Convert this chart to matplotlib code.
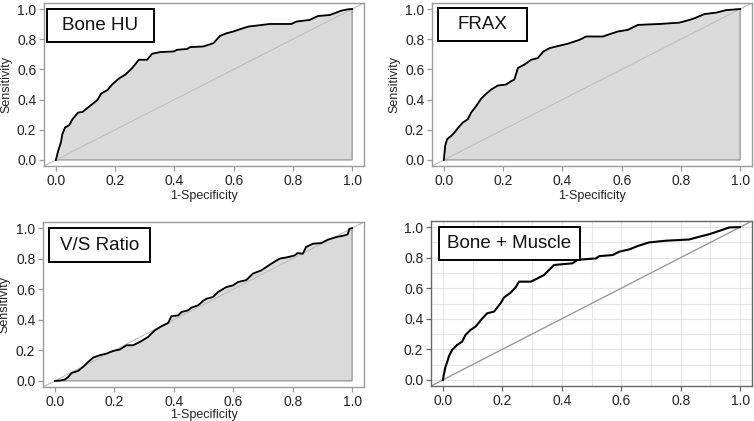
import matplotlib
matplotlib.use("Agg")
import matplotlib.pyplot as plt
from matplotlib.patches import Rectangle

plt.rcParams['font.family'] = ['Liberation Sans', 'DejaVu Sans']

# ROC curves (1-specificity, sensitivity)
bone_hu_fpr = [0, 0.008, 0.017, 0.022, 0.031, 0.045, 0.056, 0.075, 0.09, 0.112, 0.14, 0.153,
               0.174, 0.19, 0.213, 0.235, 0.258, 0.28, 0.308, 0.325, 0.353, 0.398, 0.409, 0.442,
               0.454, 0.498, 0.532, 0.554, 0.577, 0.599, 0.621, 0.65, 0.689, 0.722, 0.795, 0.812,
               0.857, 0.885, 0.924, 0.963, 0.985, 1]
bone_hu_tpr = [0, 0.061, 0.116, 0.171, 0.215, 0.23, 0.27, 0.314, 0.318, 0.353, 0.397, 0.44,
               0.463, 0.5, 0.54, 0.566, 0.61, 0.664, 0.664, 0.704, 0.715, 0.719, 0.73, 0.735,
               0.748, 0.752, 0.774, 0.822, 0.84, 0.851, 0.866, 0.884, 0.893, 0.901, 0.901, 0.917,
               0.928, 0.954, 0.96, 0.989, 0.998, 1]

frax_fpr = [0, 0.0045, 0.011, 0.025, 0.036, 0.049, 0.064, 0.081, 0.092, 0.109, 0.126, 0.143,
            0.16, 0.182, 0.21, 0.227, 0.238, 0.25, 0.272, 0.295, 0.317, 0.336, 0.357, 0.39,
            0.418, 0.458, 0.48, 0.537, 0.559, 0.587, 0.621, 0.655, 0.728, 0.795, 0.829, 0.846,
            0.88, 0.919, 0.953, 1]
frax_tpr = [0, 0.094, 0.138, 0.16, 0.182, 0.215, 0.248, 0.27, 0.314, 0.357, 0.406, 0.439,
            0.467, 0.493, 0.5, 0.522, 0.533, 0.61, 0.632, 0.664, 0.675, 0.719, 0.741, 0.757,
            0.77, 0.796, 0.818, 0.818, 0.833, 0.851, 0.862, 0.895, 0.901, 0.91, 0.928, 0.939,
            0.967, 0.976, 0.993, 1]

vs_fpr = [0, 0.017, 0.034, 0.045, 0.056, 0.078, 0.095, 0.112, 0.129, 0.151, 0.174, 0.196,
          0.218, 0.241, 0.263, 0.286, 0.314, 0.336, 0.358, 0.381, 0.392, 0.415, 0.426, 0.448,
          0.459, 0.482, 0.498, 0.51, 0.532, 0.549, 0.577, 0.599, 0.616, 0.644, 0.666, 0.694,
          0.711, 0.728, 0.756, 0.784, 0.806, 0.817, 0.834, 0.845, 0.868, 0.896, 0.918, 0.946,
          0.974, 0.985, 0.991, 1]
vs_tpr = [0, 0.002, 0.009, 0.026, 0.052, 0.065, 0.092, 0.124, 0.153, 0.168, 0.179, 0.196,
          0.205, 0.233, 0.233, 0.255, 0.288, 0.331, 0.357, 0.379, 0.423, 0.429, 0.451, 0.462,
          0.479, 0.495, 0.523, 0.538, 0.549, 0.582, 0.614, 0.625, 0.647, 0.66, 0.702, 0.723,
          0.745, 0.767, 0.8, 0.81, 0.821, 0.837, 0.832, 0.876, 0.898, 0.902, 0.924, 0.941,
          0.952, 0.959, 0.996, 1]

combo_fpr = [0, 0.003, 0.009, 0.015, 0.02, 0.031, 0.048, 0.065, 0.076, 0.093, 0.11, 0.133,
             0.149, 0.172, 0.194, 0.206, 0.228, 0.245, 0.256, 0.296, 0.318, 0.34, 0.357, 0.374,
             0.436, 0.453, 0.515, 0.526, 0.571, 0.593, 0.627, 0.655, 0.694, 0.751, 0.829, 0.863,
             0.897, 0.931, 0.964, 1]
combo_tpr = [0, 0.033, 0.087, 0.12, 0.153, 0.196, 0.229, 0.251, 0.294, 0.327, 0.349, 0.403,
             0.436, 0.447, 0.501, 0.54, 0.571, 0.606, 0.643, 0.643, 0.664, 0.686, 0.719, 0.752,
             0.763, 0.786, 0.795, 0.81, 0.817, 0.839, 0.854, 0.876, 0.9, 0.911, 0.919, 0.937,
             0.954, 0.976, 0.998, 1]

titles = ["Bone HU", "FRAX", "V/S Ratio", "Bone + Muscle"]
ticks = [0.0, 0.2, 0.4, 0.6, 0.8, 1.0]
tick_labels = ["0.0", "0.2", "0.4", "0.6", "0.8", "1.0"]

fig = plt.figure(figsize=(7.54, 4.21), dpi=100)
W, H = 754, 421

# axes frames in pixels: left, top, right, bottom
frames = [(44, 3, 364, 166), (432, 3, 752, 166), (43, 222, 364, 387), (431, 221, 752, 386)]
# label boxes in pixels
boxes = [(47, 9, 154, 42), (438, 8, 527, 41), (49, 228, 150, 262), (439, 227, 580, 260)]
curves = [(bone_hu_fpr, bone_hu_tpr), (frax_fpr, frax_tpr), (vs_fpr, vs_tpr), (combo_fpr, combo_tpr)]

for i in range(4):
    l, t, r, b = frames[i]
    ax = fig.add_axes([l / W, 1 - b / H, (r - l) / W, (b - t) / H])
    ax.set_xlim(-0.04, 1.04)
    ax.set_ylim(-0.04, 1.04)
    fpr, tpr = curves[i]
    last = i == 3
    frame_col = "#666666" if last else "#9a9a9a"

    if last:
        for g in [k / 10 for k in range(11)]:
            ax.axvline(g, color="#e6e6e6", lw=0.8, zorder=0)
            ax.axhline(g, color="#e6e6e6", lw=0.8, zorder=0)
        ax.axline((0, 0), (1, 1), color="#9a9a9a", lw=1.0, zorder=1)
        ax.plot(fpr, tpr, color="black", lw=1.5, zorder=3)
    else:
        ax.fill(list(fpr) + [1, 0], list(tpr) + [0, 0], facecolor="#dadada",
                edgecolor="#8a8a8a", lw=0.8, zorder=1)
        ax.axline((0, 0), (1, 1), color="#bdbdbd", lw=0.8, zorder=2)
        ax.plot(fpr, tpr, color="black", lw=1.3, zorder=3)

    for s in ax.spines.values():
        s.set_color(frame_col)
        s.set_linewidth(1.0)
    ax.set_xticks(ticks)
    ax.set_xticklabels(tick_labels)
    ax.set_yticks(ticks)
    ax.set_yticklabels(tick_labels)
    ax.tick_params(length=3.5, width=0.9, color=frame_col, labelsize=10,
                   labelcolor="#222222", pad=2)

    if not last:
        ax.set_xlabel("1-Specificity", fontsize=9, color="#222222")
        ax.set_ylabel("Sensitivity", fontsize=9, color="#222222")
        ax.xaxis.set_label_coords(0.5, -0.15 if i < 2 else -0.135)
        ax.yaxis.set_label_coords(-0.1, 0.5)

    bl, bt, br, bb = boxes[i]
    x0 = (bl - l) / (r - l)
    x1 = (br - l) / (r - l)
    y0 = (b - bb) / (b - t)
    y1 = (b - bt) / (b - t)
    ax.add_patch(Rectangle((x0, y0), x1 - x0, y1 - y0, transform=ax.transAxes,
                           facecolor="white", edgecolor="black", lw=1.4, zorder=5))
    ax.text((x0 + x1) / 2, (y0 + y1) / 2, titles[i], transform=ax.transAxes,
            ha="center", va="center", fontsize=13.5, color="#111111", zorder=6)

fig.savefig("out.png", dpi=100)
